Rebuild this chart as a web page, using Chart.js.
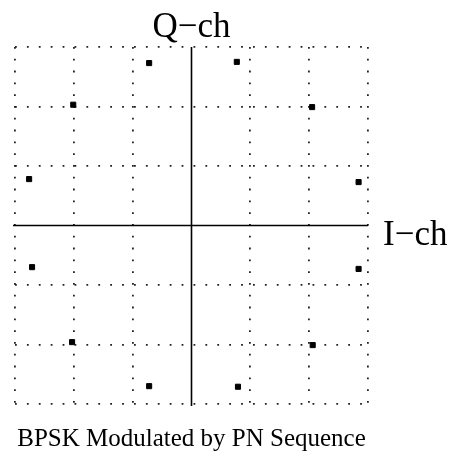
<!DOCTYPE html>
<html>
<head>
<meta charset="utf-8">
<script src="https://cdn.jsdelivr.net/npm/chart.js@4/dist/chart.umd.min.js"></script>
<style>
html,body{margin:0;padding:0;background:#fff;}
#wrap{width:451px;height:461px;position:relative;}
</style>
</head>
<body>
<div id="wrap"><canvas id="c" width="451" height="461"></canvas></div>
<script>
// In-phase (I) and quadrature (Q) values of the constellation points
const iValues = [-0.72, 0.77, -2.01, 2.05, -2.76, 2.84, -2.71, 2.84, -2.03, 2.06, -0.72, 0.79];
const qValues = [2.73, 2.75, 2.03, 1.99, 0.78, 0.73, -0.70, -0.73, -1.96, -2.01, -2.70, -2.71];
const axisMin = -3, axisMax = 3;
const xLabel = "I\u2212ch";
const yLabel = "Q\u2212ch";
const caption = "BPSK Modulated by PN Sequence";

const points = iValues.map((v, k) => ({x: v, y: qValues[k]}));

const annotate = {
  id: 'annotate',
  afterDraw(chart) {
    const {ctx, chartArea, scales} = chart;
    const x0 = scales.x.getPixelForValue(0);
    const y0 = scales.y.getPixelForValue(0);
    ctx.save();
    ctx.strokeStyle = '#000';
    ctx.lineWidth = 1.6;
    ctx.beginPath();
    ctx.moveTo(x0, chartArea.top);
    ctx.lineTo(x0, chartArea.bottom + 2);
    ctx.moveTo(chartArea.left - 2, y0);
    ctx.lineTo(chartArea.right, y0);
    ctx.stroke();
    ctx.fillStyle = '#000';
    ctx.font = '35px "Liberation Serif", serif';
    ctx.textAlign = 'center';
    ctx.textBaseline = 'alphabetic';
    ctx.fillText(yLabel, x0, chartArea.top - 10);
    ctx.textAlign = 'left';
    ctx.fillText(xLabel, chartArea.right + 15, y0 + 19);
    ctx.font = '25px "Liberation Serif", serif';
    ctx.textAlign = 'center';
    ctx.fillText(caption, (chartArea.left + chartArea.right) / 2, chartArea.bottom + 42);
    ctx.restore();
  }
};

const gridOpts = {
  color: (c) => (c.tick && c.tick.value === 0) ? 'rgba(0,0,0,0)' : '#222',
  lineWidth: 1.8,
  drawTicks: false
};

new Chart(document.getElementById('c'), {
  type: 'scatter',
  data: {
    datasets: [{
      data: points,
      backgroundColor: '#000',
      borderColor: '#000',
      pointStyle: 'rect',
      pointRadius: 3.6,
      pointHoverRadius: 3.6
    }]
  },
  options: {
    responsive: false,
    animation: false,
    events: [],
    layout: {padding: {left: 15, top: 47, right: 83, bottom: 57}},
    plugins: {legend: {display: false}, tooltip: {enabled: false}},
    scales: {
      x: {
        type: 'linear', min: axisMin, max: axisMax,
        ticks: {display: false, stepSize: 1},
        grid: gridOpts,
        border: {display: false, dash: [1.8, 10]}
      },
      y: {
        type: 'linear', min: axisMin, max: axisMax,
        ticks: {display: false, stepSize: 1},
        grid: gridOpts,
        border: {display: false, dash: [1.8, 10.1]}
      }
    }
  },
  plugins: [annotate]
});
</script>
</body>
</html>
